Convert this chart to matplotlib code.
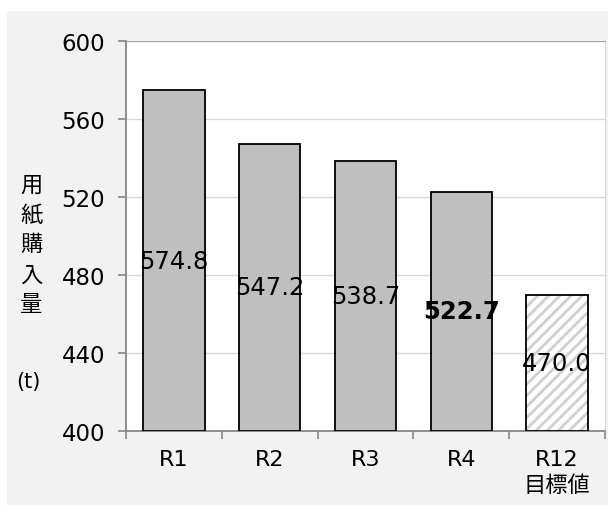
import matplotlib
matplotlib.use("Agg")
import matplotlib.pyplot as plt
from matplotlib.patches import Rectangle

plt.rcParams['font.family'] = ['DejaVu Sans', 'Noto Sans CJK JP']
plt.rcParams['hatch.linewidth'] = 2.0

categories = ['R1', 'R2', 'R3', 'R4', 'R12\n目標値']
values = [574.8, 547.2, 538.7, 522.7, 470.0]
value_labels = ['574.8', '547.2', '538.7', '522.7', '470.0']
y_ticks = [400, 440, 480, 520, 560, 600]

fig = plt.figure(figsize=(6.08, 5.06), dpi=100)
fig.patch.set_facecolor('white')
fig.patches.append(Rectangle((7 / 608, 0), 1, 1 - 12 / 506, transform=fig.transFigure,
                             facecolor='#f2f2f2', edgecolor='none', zorder=-10))

ax = fig.add_axes([126 / 608, 1 - 432 / 506, (605 - 126) / 608, (432 - 42) / 506])
ax.set_facecolor('white')

ymin = 400
width = 0.64
x = list(range(len(categories)))
for i, v in enumerate(values):
    target = i == len(values) - 1
    if target:
        # light diagonal hatch, then a black outline on top
        ax.bar(i, v - ymin, bottom=ymin, width=width, color='white',
               edgecolor='#d0d0d0', linewidth=0, hatch='///', zorder=3)
        ax.bar(i, v - ymin, bottom=ymin, width=width, fill=False,
               edgecolor='black', linewidth=1.3, zorder=3.5)
    else:
        ax.bar(i, v - ymin, bottom=ymin, width=width, color='#bfbfbf',
               edgecolor='black', linewidth=1.3, zorder=3)
    mid = (v + ymin) / 2
    ax.text(i, mid, value_labels[i], ha='center', va='center', fontsize=17.5,
            fontweight='bold' if i == 3 else 'normal', color='black', zorder=4)

ax.set_ylim(400, 600)
ax.set_xlim(-0.5, len(categories) - 0.5)
ax.set_yticks(y_ticks)
ax.set_yticklabels([str(t) for t in y_ticks], fontsize=16.5)
ax.yaxis.grid(True, color='#d9d9d9', linewidth=1.0, zorder=0)
ax.set_axisbelow(True)

ax.set_xticks(x)
ax.set_xticklabels(categories, fontsize=16, linespacing=1.3)
ax.set_xticks([i - 0.5 for i in range(len(categories) + 1)], minor=True)
ax.tick_params(axis='x', which='major', length=0, pad=13)
ax.tick_params(axis='x', which='minor', length=6, color='#868686', width=1.2)
ax.tick_params(axis='y', length=6, color='#868686', width=1.2, pad=9)

for side in ['left', 'bottom']:
    ax.spines[side].set_color('#868686')
    ax.spines[side].set_linewidth(1.3)
ax.spines['top'].set_color('#a6a6a6')
ax.spines['right'].set_color('#d9d9d9')

fig.text(31 / 608, 1 - 245 / 506, '用\n紙\n購\n入\n量', ha='center', va='center',
         fontsize=16, linespacing=1.38, family=['Noto Sans CJK JP', 'DejaVu Sans'])
fig.text(28 / 608, 1 - 382 / 506, '(t)', ha='center', va='center', fontsize=15)

fig.savefig('out.png', dpi=100, facecolor=fig.get_facecolor())
